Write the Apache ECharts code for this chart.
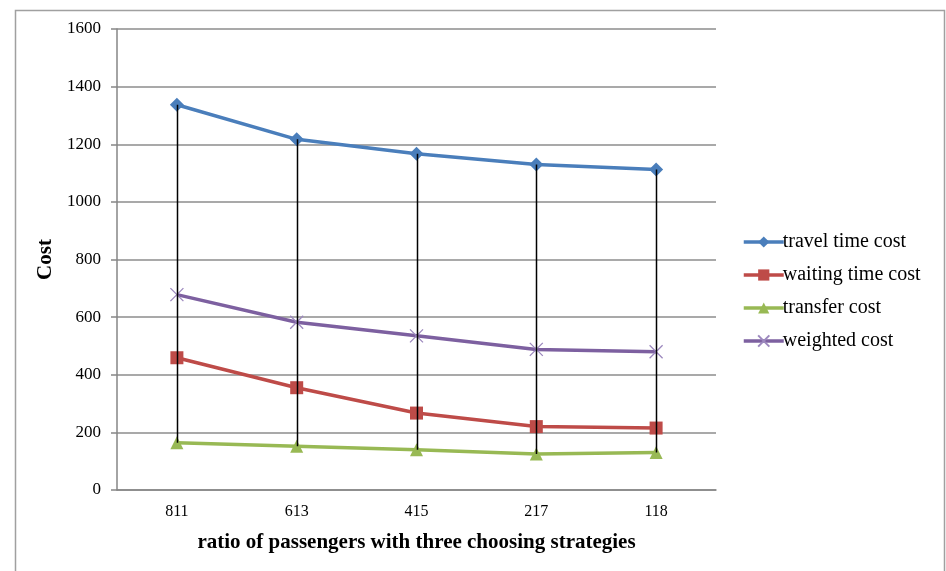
<!DOCTYPE html>
<html>
<head>
<meta charset="utf-8">
<script src="https://cdn.jsdelivr.net/npm/echarts@6/dist/echarts.min.js"></script>
<style>
  html, body { margin: 0; padding: 0; background: #fff; }
  #chart { width: 946px; height: 571px; }
</style>
</head>
<body>
<div id="chart"></div>
<script>
// Passenger-mix scenarios on the x axis
const categories = ['811', '613', '415', '217', '118'];

// Cost components per scenario
const travelTimeCost = [1337, 1217, 1167, 1130, 1112];
const waitingTimeCost = [459, 355, 267, 220, 215];
const transferCost = [164, 152, 140, 125, 130];
const weightedCost = [678, 582, 535, 488, 480];

const yTicks = { min: 0, max: 1600, interval: 200 };

const serif = '"Liberation Serif", "Times New Roman", serif';

// High-low lines: from the largest to the smallest value in each scenario
const highLow = categories.map((c, i) => {
  const vals = [travelTimeCost[i], waitingTimeCost[i], transferCost[i], weightedCost[i]];
  return [i, Math.max(...vals), Math.min(...vals)];
});

const crossSymbol = 'path://M0,0 L10,10 M10,0 L0,10';

const chart = echarts.init(document.getElementById('chart'), null, { renderer: 'canvas' });

function lineSeries(name, data, color, symbol, size, extra) {
  return Object.assign({
    name: name,
    type: 'line',
    data: data,
    symbol: symbol,
    symbolSize: size,
    showAllSymbol: true,
    lineStyle: { color: color, width: 3.5 },
    itemStyle: { color: color },
    z: 3,
    animation: false
  }, extra || {});
}

chart.setOption({
  backgroundColor: '#fff',
  animation: false,
  graphic: [{
    type: 'rect',
    shape: { x: 15.5, y: 10.5, width: 929, height: 600 },
    style: { fill: 'none', stroke: '#a0a0a0', lineWidth: 1.5 },
    silent: true,
    z: -10
  }],
  grid: { left: 117, right: 230, top: 29, bottom: 81, containLabel: false },
  legend: {
    orient: 'vertical',
    left: 742,
    top: 232,
    padding: 0,
    itemWidth: 40,
    itemHeight: 14,
    itemGap: 13,
    lineStyle: { width: 3.5 },
    textStyle: { fontFamily: serif, fontSize: 20, color: '#000', padding: [0, 0, 0, -6] },
    data: ['travel time cost', 'waiting time cost', 'transfer cost', 'weighted cost']
  },
  xAxis: {
    type: 'category',
    data: categories,
    boundaryGap: true,
    axisLine: { show: true, lineStyle: { color: '#868686', width: 1.5 } },
    axisTick: { show: false },
    axisLabel: { fontFamily: serif, fontSize: 16, color: '#000', margin: 14 },
    name: 'ratio of passengers with three choosing strategies',
    nameLocation: 'middle',
    nameGap: 42,
    nameTextStyle: { fontFamily: serif, fontSize: 21, fontWeight: 'bold', color: '#000' }
  },
  yAxis: {
    type: 'value',
    min: yTicks.min,
    max: yTicks.max,
    interval: yTicks.interval,
    axisLine: { show: true, lineStyle: { color: '#868686', width: 1.5 } },
    axisTick: { show: true, inside: false, length: 6, lineStyle: { color: '#868686', width: 1.5 } },
    axisLabel: { fontFamily: serif, fontSize: 17, color: '#000', margin: 16, formatter: v => String(v) },
    splitLine: { show: true, lineStyle: { color: '#8c8c8c', width: 1.5 } },
    name: 'Cost',
    nameLocation: 'middle',
    nameGap: 52,
    nameRotate: 90,
    nameTextStyle: { fontFamily: serif, fontSize: 21, fontWeight: 'bold', color: '#000' }
  },
  series: [
    lineSeries('travel time cost', travelTimeCost, '#4A7EBB', 'diamond', 14),
    lineSeries('waiting time cost', waitingTimeCost, '#BE4B48', 'rect', 13),
    lineSeries('transfer cost', transferCost, '#98B954', 'triangle', 13),
    lineSeries('weighted cost', weightedCost, '#7D60A0', crossSymbol, 13, {
      itemStyle: { color: '#7D60A0', borderColor: '#9C88BE', borderWidth: 1.3 }
    }),
    {
      type: 'custom',
      name: 'high-low',
      data: highLow,
      z: 5,
      silent: true,
      renderItem: function (params, api) {
        const top = api.coord([api.value(0), api.value(1)]);
        const bot = api.coord([api.value(0), api.value(2)]);
        return {
          type: 'line',
          shape: { x1: Math.round(top[0]) + 0.5, y1: top[1], x2: Math.round(bot[0]) + 0.5, y2: bot[1] },
          style: { stroke: '#000', lineWidth: 1.5 }
        };
      }
    }
  ]
});
</script>
</body>
</html>
